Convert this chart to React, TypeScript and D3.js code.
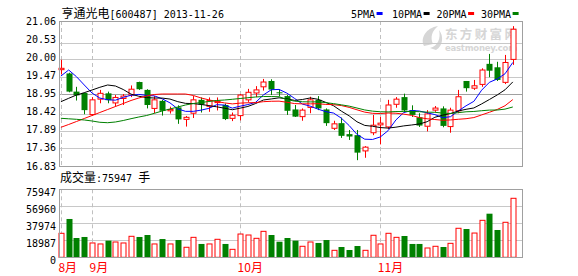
import React from "react";
import * as d3 from "d3";

// ---------- data ----------
const title = "亨通光电[600487] 2013-11-26";
const augDays = [27, 28, 29, 30];
const sepDays = [2, 3, 4, 5, 6, 9, 10, 11, 12, 13, 16, 17, 18, 23, 24, 25, 26, 27, 30];
const octDays = [8, 9, 10, 11, 14, 15, 16, 17, 18, 21, 22, 23, 24, 25, 28, 29, 30, 31];
const novDays = [1, 4, 5, 6, 7, 8, 11, 12, 13, 14, 15, 18, 19, 20, 21, 22, 25, 26];
const pad = (n: number) => (n < 10 ? "0" + n : "" + n);
const dates: string[] = [
  ...augDays.map((d) => `2013-08-${pad(d)}`),
  ...sepDays.map((d) => `2013-09-${pad(d)}`),
  ...octDays.map((d) => `2013-10-${pad(d)}`),
  ...novDays.map((d) => `2013-11-${pad(d)}`),
];
const monthLabels = ["8月", "9月", "10月", "11月"];
const monthStarts = ["2013-08-27", "2013-09-02", "2013-10-08", "2013-11-01"];

const opens = [
  19.64, 19.53, 19.0, 18.96, 18.33, 18.78, 18.95, 18.67, 18.8, 18.9,
  19.28, 19.05, 18.51, 18.73, 18.44, 18.54, 18.19, 18.37, 18.76, 18.57,
  18.68, 18.61, 18.22, 18.3, 18.76, 18.96, 19.14, 19.31, 18.98, 18.87,
  18.48, 18.27, 18.54, 18.76, 18.48, 17.93, 18.08, 17.76, 17.73, 17.27,
  17.8, 18.03, 17.97, 18.63, 18.84, 18.46, 18.25, 17.99, 18.46, 18.51,
  17.98, 18.44, 19.31, 19.1, 19.21, 19.81, 19.71, 19.27, 19.94,
];
const highs = [
  19.93, 19.55, 19.14, 18.97, 18.84, 19.05, 19.0, 18.9, 18.93, 19.18,
  19.29, 19.07, 18.87, 18.76, 18.56, 18.6, 18.29, 18.87, 18.83, 18.83,
  18.83, 18.65, 18.39, 18.93, 19.08, 19.16, 19.37, 19.36, 19.06, 18.9,
  18.61, 18.51, 18.85, 18.87, 18.51, 18.15, 18.24, 17.88, 17.88, 17.41,
  18.32, 18.27, 18.76, 18.84, 18.94, 18.6, 18.37, 18.46, 18.58, 18.57,
  18.53, 19.05, 19.31, 19.34, 19.68, 20.1, 19.87, 20.07, 20.91,
];
const lows = [
  19.5, 18.98, 18.74, 18.34, 18.29, 18.66, 18.66, 18.56, 18.61, 18.84,
  19.05, 18.51, 18.37, 18.3, 18.36, 18.06, 17.98, 18.23, 18.39, 18.41,
  18.45, 18.17, 18.14, 18.16, 18.7, 18.84, 19.03, 18.9, 18.86, 18.32,
  18.26, 18.15, 18.37, 18.46, 18.0, 17.88, 17.65, 17.59, 17.0, 17.07,
  17.73, 17.46, 17.91, 18.53, 18.4, 18.26, 17.97, 17.84, 18.41, 17.96,
  17.8, 18.37, 19.0, 19.05, 19.14, 19.42, 19.31, 19.22, 19.78,
];
const closes = [
  19.68, 19.0, 18.89, 18.46, 18.76, 18.95, 18.75, 18.83, 18.87, 19.07,
  19.07, 18.61, 18.76, 18.44, 18.48, 18.19, 18.25, 18.76, 18.62, 18.74,
  18.72, 18.2, 18.31, 18.9, 18.98, 19.05, 19.28, 19.06, 18.95, 18.44,
  18.27, 18.46, 18.76, 18.51, 18.08, 18.06, 17.71, 17.69, 17.22, 17.38,
  18.02, 18.08, 18.61, 18.78, 18.45, 18.32, 18.01, 18.35, 18.52, 18.0,
  18.46, 18.85, 19.1, 19.17, 19.63, 19.61, 19.34, 19.85, 20.82,
];
const volumes = [
  26800, 42800, 21550, 22700, 16000, 14900, 18600, 17100, 16000, 23450,
  22700, 24900, 14900, 20400, 14900, 19300, 11200, 22300, 14900, 14900,
  20100, 14900, 8900, 26000, 24900, 21200, 29000, 24900, 17400, 21550,
  18600, 12300, 17100, 16000, 19300, 7800, 11500, 8150, 12600, 7800,
  24600, 14900, 26800, 22300, 23800, 14900, 14900, 10400, 12300, 11500,
  15600, 32400, 31600, 27100, 41300, 48700, 30500, 39100, 65900,
];
const ma5Head = [19.455, 19.631, 19.435, 19.193];
const ma10Head = [18.706, 18.805, 18.901, 18.969, 19.047, 19.126, 19.193, 19.164, 19.062];
const ma20Head = [
  17.959, 18.041, 18.128, 18.216, 18.303, 18.391, 18.478, 18.565, 18.653, 18.741,
  18.814, 18.872, 18.916, 18.93, 18.93, 18.93, 18.93, 18.887, 18.814,
];
const ma30Head = [
  18.222, 18.207, 18.192, 18.172, 18.143, 18.105, 18.093, 18.114, 18.157, 18.21,
  18.259, 18.303, 18.367, 18.435, 18.493, 18.551, 18.61, 18.653, 18.683, 18.712,
  18.741, 18.755, 18.776, 18.799, 18.822, 18.843, 18.857, 18.857, 18.851,
];
const priceTicks = [21.06, 20.53, 20.0, 19.47, 18.95, 18.42, 17.89, 17.36, 16.83];
const priceGrid = [20.427, 19.943, 19.435, 18.338, 17.851, 17.349];
const priceRefLine = 18.93;
const volumeTicks = [75947, 56960, 37974, 18987, 0];
const volumeLabel = "成交量:75947 手";
const legendNames = ["5PMA", "10PMA", "20PMA", "30PMA"];
const maPeriods = [5, 10, 20, 30];
const maHeads = [ma5Head, ma10Head, ma20Head, ma30Head];

// ---------- styles ----------
const RED = "#ff0000";
const GREEN = "#008000";
const maColors = ["#0000ff", "#000000", "#ff0000", "#008000"];
const MONO = "'DejaVu Sans Mono', 'Liberation Mono', monospace";
const CJK = "'Noto Sans CJK SC', sans-serif";

function movingAverage(n: number, head: number[]): number[] {
  return closes.map((_, i) =>
    i < n - 1 ? head[i] : (d3.mean(closes.slice(i - n + 1, i + 1)) as number)
  );
}

export default function App() {
  const W = 578;
  const H = 276;
  const left = 59;
  const right = 522;
  const pTop = 21;
  const pBot = 166;
  const vTop = 189.3;
  const vBot = 257.3;

  const x = d3.scaleBand<string>().domain(dates).range([57, 516.7]);
  const cx = (i: number) => (x(dates[i]) as number) + x.bandwidth() / 2;
  const y = d3.scaleLinear().domain([16.83, 21.06]).range([pBot, pTop]);
  const yv = d3.scaleLinear().domain([0, 75947]).range([vBot, vTop]);

  const mas = maPeriods.map((n, k) => movingAverage(n, maHeads[k]));
  const line = d3
    .line<number>()
    .x((_, i) => cx(i))
    .y((d) => y(d));

  const monthX = monthStarts.map((d) => (x(d) as number) + x.bandwidth() / 2);

  return (
    <svg
      width={W}
      height={H}
      style={{ position: "absolute", left: 0, top: 0, background: "#fff" }}
    >
      <rect x={0} y={0} width={W} height={H} fill="#fff" />
      {/* title */}
      <text x={61.5} y={18} fontSize={12} fill="#000">
        <tspan fontFamily={CJK}>亨通光电</tspan>
        <tspan fontFamily={MONO} fontSize={10}>
          {title.slice(4)}
        </tspan>
      </text>
      {/* legend */}
      {legendNames.map((name, k) => {
        const starts = [351, 392, 436.5, 481];
        const lx = starts[k];
        const tw = name.length * 6.02;
        return (
          <g key={name}>
            <text x={lx} y={18} fontFamily={MONO} fontSize={10} fill="#000">
              {name}
            </text>
            <rect x={lx + tw + 1.5} y={12} width={6} height={3} fill={maColors[k]} />
          </g>
        );
      })}

      {/* watermark */}
      <g fill="#d6d6d6" fontWeight="bold">
        <path d="M424,46 C420,38 426,28 438,26 C432,31 430,37 433,44 Z" />
        <path d="M430,48 C438,46 441,38 439,30 C444,36 443,46 436,50 Z" />
        <text x={445} y={38.5} fontFamily={CJK} fontSize={12.5} textLength={72}>
          东方财富网
        </text>
        <text x={445} y={51} fontFamily="'DejaVu Sans', sans-serif" fontSize={8.5} textLength={72}>
          eastmoney.com
        </text>
      </g>

      {/* price grid */}
      {priceGrid.map((v) => (
        <line
          key={v}
          x1={left}
          x2={right}
          y1={Math.round(y(v)) + 0.5}
          y2={Math.round(y(v)) + 0.5}
          stroke="#c8c8c8"
          strokeWidth={1}
        />
      ))}
      <line
        x1={left}
        x2={right}
        y1={Math.round(y(priceRefLine)) + 0.5}
        y2={Math.round(y(priceRefLine)) + 0.5}
        stroke="#a0a0a0"
        strokeWidth={1}
      />
      {/* volume grid */}
      {volumeTicks
        .filter((v) => v > 0 && v < 75947)
        .map((v) => (
          <line
            key={v}
            x1={left}
            x2={right}
            y1={Math.round(yv(v)) + 0.5}
            y2={Math.round(yv(v)) + 0.5}
            stroke="#c8c8c8"
            strokeWidth={1}
          />
        ))}

      {/* month dashed lines */}
      {monthX.map((mx, k) => (
        <g key={k}>
          <line
            x1={Math.round(mx) + 0.5}
            x2={Math.round(mx) + 0.5}
            y1={pTop}
            y2={pBot}
            stroke="#c0c0c0"
            strokeDasharray="4,3"
          />
          <line
            x1={Math.round(mx) + 0.5}
            x2={Math.round(mx) + 0.5}
            y1={vTop}
            y2={vBot}
            stroke="#c0c0c0"
            strokeDasharray="4,3"
          />
          <text
            x={mx - 2.5}
            y={271.5}
            fontFamily={CJK}
            fontSize={12}
            fill={RED}
          >
            {monthLabels[k]}
          </text>
        </g>
      ))}

      {/* candles */}
      {dates.map((d, i) => {
        const c = Math.round(cx(i)) + 0.5;
        const o = opens[i];
        const cl = closes[i];
        const up = cl >= o;
        const yTop = y(Math.max(o, cl));
        const yBot = y(Math.min(o, cl));
        const yH = y(highs[i]);
        const yL = y(lows[i]);
        if (up) {
          const h = Math.max(yBot - yTop, 1);
          return (
            <g key={d}>
              <line x1={c} x2={c} y1={yH} y2={yTop} stroke={RED} />
              <line x1={c} x2={c} y1={yTop + h} y2={yL} stroke={RED} />
              <rect
                x={c - 2.5}
                y={yTop}
                width={5}
                height={h}
                fill="#fff"
                stroke={RED}
                strokeWidth={1}
              />
            </g>
          );
        }
        return (
          <g key={d}>
            <line x1={c} x2={c} y1={yH} y2={yL} stroke={GREEN} />
            <rect
              x={c - 3}
              y={yTop}
              width={6}
              height={Math.max(yBot - yTop, 1)}
              fill={GREEN}
            />
          </g>
        );
      })}

      {/* moving averages */}
      {mas.map((m, k) => (
        <path
          key={k}
          d={line(m) as string}
          fill="none"
          stroke={maColors[k]}
          strokeWidth={1}
        />
      ))}

      {/* volume bars */}
      {dates.map((d, i) => {
        const c = Math.round(cx(i)) + 0.5;
        const up = closes[i] >= opens[i];
        const top = yv(volumes[i]);
        if (up) {
          return (
            <rect
              key={d}
              x={c - 2.5}
              y={top}
              width={5}
              height={vBot - top}
              fill="#fff"
              stroke={RED}
              strokeWidth={1}
            />
          );
        }
        return (
          <rect
            key={d}
            x={c - 3}
            y={top}
            width={6}
            height={vBot - top}
            fill={GREEN}
          />
        );
      })}

      {/* borders */}
      <rect
        x={left + 0.5}
        y={pTop + 0.5}
        width={right - left}
        height={pBot - pTop}
        fill="none"
        stroke="#a0a0a0"
      />
      <rect
        x={left + 0.5}
        y={Math.round(vTop) + 0.5}
        width={right - left}
        height={Math.round(vBot) - Math.round(vTop)}
        fill="none"
        stroke="#a0a0a0"
      />

      {/* price axis labels */}
      {priceTicks.map((v) => (
        <text
          key={v}
          x={56}
          y={y(v) + 3.5}
          textAnchor="end"
          fontFamily={MONO}
          fontSize={10}
          fill="#000"
        >
          {v.toFixed(2)}
        </text>
      ))}
      {/* volume label & axis */}
      <text x={60} y={181.5} fontSize={12} fill="#000">
        <tspan fontFamily={CJK}>成交量</tspan>
        <tspan fontFamily={MONO} fontSize={10}>
          {volumeLabel.slice(3, -1)}
        </tspan>
        <tspan fontFamily={CJK}>{volumeLabel.slice(-1)}</tspan>
      </text>
      {volumeTicks.map((v) => (
        <text
          key={v}
          x={56}
          y={yv(v) + 7}
          textAnchor="end"
          fontFamily={MONO}
          fontSize={10}
          fill="#000"
        >
          {v}
        </text>
      ))}
    </svg>
  );
}
